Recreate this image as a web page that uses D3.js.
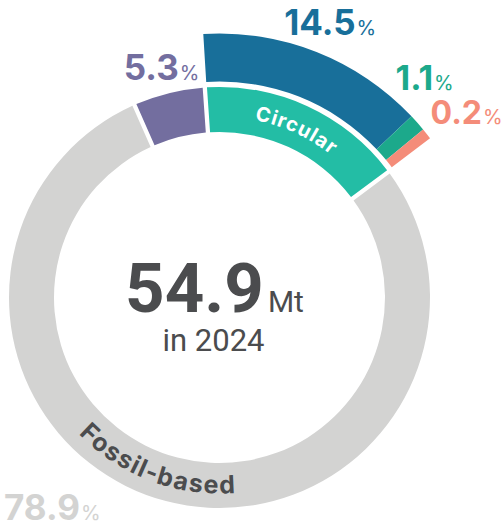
<!DOCTYPE html>
<html>
<head>
<meta charset="utf-8">
<script src="https://cdn.jsdelivr.net/npm/d3@7/dist/d3.min.js"></script>
<style>
  html, body { margin: 0; padding: 0; background: #fff; }
  svg { display: block; }
</style>
</head>
<body>
<div id="chart"></div>
<script>
// values (% of total)
const RING_NAMES = ['Circular', 'Fossil-based', 'Bio-based'];
const RING_COLORS = ['#23bda5', '#d3d3d2', '#736e9f'];
const CIRCULAR_NAMES = ['Recycled', 'Chemical', 'Other'];
const CIRCULAR_SHARES = [14.5, 1.1, 0.2];
const CIRCULAR_COLORS = ['#186f9a', '#1ca98b', '#f48c79'];
const FOSSIL_SHARE = 78.9;
const BIO_SHARE = 5.3;
const TOTAL_MT = 54.9;
const YEAR = 2024;

const WIDTH = 504;
const HEIGHT = 527;
const CX = 219.5;
const CY = 297.5;
const R_IN = 165.5;
const R_OUT = 210.5;
const R2_IN = 216;
const R2_OUT = 264;
const PAD = 0.016;
const START = -4 * Math.PI / 180;
const MIN_SHARE = 0.7; // keep the thinnest slice visible
const FONT = 'Inter, "Open Sans", sans-serif';
const DARK = '#4b4c4e';

let svg;

function polar(a, r) {
  return [CX + r * Math.sin(a), CY - r * Math.cos(a)];
}

function buildRings() {
  let ringValues = [d3.sum(CIRCULAR_SHARES), FOSSIL_SHARE, BIO_SHARE];

  let pie = d3.pie()
    .sort(null)
    .startAngle(START)
    .endAngle(START + 2 * Math.PI)
    .padAngle(PAD);

  let ring = pie(ringValues);

  let arc = d3.arc()
    .innerRadius(R_IN)
    .outerRadius(R_OUT)
    .padRadius(Math.hypot(R_IN, R_OUT));

  let g = svg.append('g')
    .attr('class', 'ringGroup')
    .attr('transform', `translate(${CX},${CY})`);

  g.selectAll('path')
    .data(ring)
    .enter()
    .append('path')
    .attr('d', arc)
    .attr('fill', (d, i) => RING_COLORS[i]);

  // outer breakdown of the circular slice
  let circ = ring[0];
  let off = 2 / ((R2_IN + R2_OUT) / 2);
  let pie2 = d3.pie()
    .sort(null)
    .value((d) => Math.max(d, MIN_SHARE))
    .startAngle(circ.startAngle + off)
    .endAngle(circ.endAngle - off);

  let arc2 = d3.arc()
    .innerRadius(R2_IN)
    .outerRadius(R2_OUT);

  let outer = pie2(CIRCULAR_SHARES);

  g.selectAll('path.outer')
    .data(outer)
    .enter()
    .append('path')
    .attr('class', 'outer')
    .attr('d', arc2)
    .attr('fill', (d, i) => CIRCULAR_COLORS[i]);

  return { ring, outer };
}

function curvedLabel(id, text, r, a0, a1, ccw, color, size, spacing) {
  let p = d3.path();
  let t0 = a0 - Math.PI / 2;
  let t1 = a1 - Math.PI / 2;
  p.moveTo(CX + r * Math.cos(t0), CY + r * Math.sin(t0));
  p.arc(CX, CY, r, t0, t1, ccw);

  svg.append('path')
    .attr('id', id)
    .attr('d', p.toString())
    .attr('fill', 'none');

  svg.append('text')
    .attr('font-family', FONT)
    .attr('font-weight', 700)
    .attr('font-size', size)
    .attr('letter-spacing', spacing)
    .attr('fill', color)
    .append('textPath')
    .attr('href', '#' + id)
    .attr('startOffset', '50%')
    .attr('text-anchor', 'middle')
    .text(text);
}

function shareLabel(value, x, y, color, anchor, size) {
  let t = svg.append('text')
    .attr('x', x)
    .attr('y', y)
    .attr('text-anchor', anchor)
    .attr('font-family', FONT)
    .attr('fill', color);
  t.append('tspan')
    .attr('font-size', size || 35)
    .attr('font-weight', 700)
    .text(d3.format('.1f')(value));
  t.append('tspan')
    .attr('font-size', 20)
    .attr('font-weight', 400)
    .attr('dx', 1)
    .text('%');
}

function buildLabels(layout) {
  let circ = layout.ring[0];
  let fossil = layout.ring[1];
  let bio = layout.ring[2];
  let blue = layout.outer[0];

  curvedLabel('circPath', RING_NAMES[0], 181, circ.startAngle, circ.endAngle, false, '#fff', 20, 1);

  let fMid = (fossil.startAngle + fossil.endAngle) / 2 + 0.1;
  curvedLabel('fossilPath', RING_NAMES[1], 196, fMid + 1.2, fMid - 1.2, true, DARK, 25, 1.4);

  let p = polar((blue.startAngle + blue.endAngle) / 2, 282);
  shareLabel(CIRCULAR_SHARES[0], p[0] + 7, p[1], CIRCULAR_COLORS[0], 'middle');

  p = polar((bio.startAngle + bio.endAngle) / 2, 224);
  shareLabel(BIO_SHARE, p[0] - 4, p[1], RING_COLORS[2], 'middle');

  // small slices: labels set off to the upper right
  shareLabel(CIRCULAR_SHARES[1], CX + 176, CY - 208, CIRCULAR_COLORS[1], 'start', 34);
  shareLabel(CIRCULAR_SHARES[2], CX + 211, CY - 174, CIRCULAR_COLORS[2], 'start', 32);

  shareLabel(FOSSIL_SHARE, CX - R_OUT - 5, CY + R_OUT + 12, '#d3d3d2', 'start');
}

function buildCenter() {
  let t = svg.append('text')
    .attr('x', CX - 5)
    .attr('y', CY + 14)
    .attr('text-anchor', 'middle')
    .attr('font-family', 'Roboto, sans-serif')
    .attr('fill', DARK);
  t.append('tspan')
    .attr('font-size', 69)
    .attr('font-weight', 700)
    .text(TOTAL_MT);
  t.append('tspan')
    .attr('font-size', 30)
    .attr('dx', 4)
    .text('Mt');

  svg.append('text')
    .attr('x', CX - 6)
    .attr('y', CY + 53)
    .attr('text-anchor', 'middle')
    .attr('font-family', 'Roboto, sans-serif')
    .attr('font-size', 31)
    .attr('fill', DARK)
    .text('in ' + YEAR);
}

svg = d3.select('#chart').append('svg')
  .attr('width', WIDTH)
  .attr('height', HEIGHT);

let layout = buildRings();
buildLabels(layout);
buildCenter();
</script>
</body>
</html>
